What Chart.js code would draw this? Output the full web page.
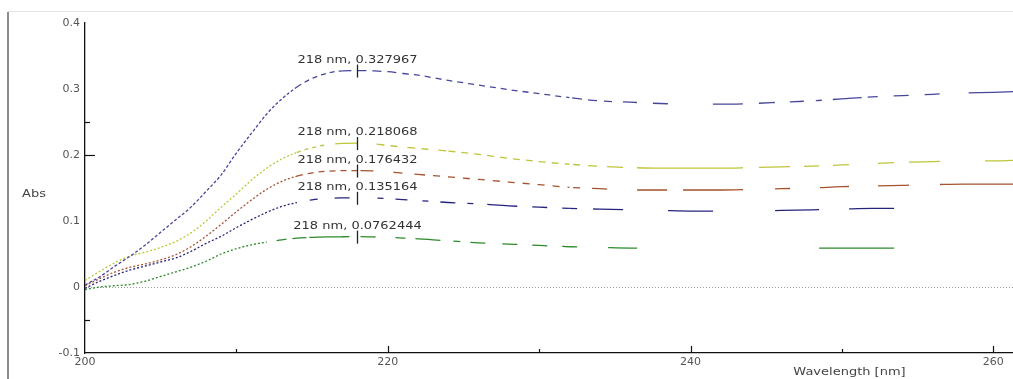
<!DOCTYPE html>
<html>
<head>
<meta charset="utf-8">
<script src="https://cdn.jsdelivr.net/npm/chart.js@4/dist/chart.umd.min.js"></script>
<style>
  html, body { margin: 0; padding: 0; background: #fff; }
  #wrap { width: 1013px; height: 379px; position: relative; }
</style>
</head>
<body>
<div id="wrap"><canvas id="c"></canvas></div>
<script>
// Wavelength grid (nm) shared by all spectra
const wavelengths = [200,201,202,203,204,205,206,207,208,209,210,211,212,213,214,215,216,217,218,219,220,221,222,223,224,
  226,228,230,232,234,236,238,240,242,244,246,248,250,252,254,256,258,260,261.3];

// Absorbance of the five samples
const absA = [0.003,0.016,0.032,0.047,0.064,0.083,0.102,0.121,0.145,0.170,0.203,0.233,0.262,0.285,0.303,0.316,0.324,0.3275,0.327967,0.3274,0.3262,0.3235,0.321,0.317,0.313,
  0.306,0.299,0.293,0.287,0.282,0.280,0.278,0.277,0.277,0.278,0.280,0.282,0.285,0.288,0.290,0.292,0.294,0.295,0.296];
const absB = [0.010,0.024,0.037,0.047,0.053,0.060,0.069,0.082,0.100,0.121,0.141,0.162,0.180,0.194,0.204,0.211,0.2155,0.2176,0.218068,0.2172,0.2145,0.2120,0.210,0.208,0.206,
  0.201,0.195,0.190,0.186,0.183,0.181,0.180,0.180,0.180,0.181,0.182,0.183,0.185,0.187,0.189,0.190,0.191,0.191,0.192];
const absC = [0.002,0.013,0.023,0.030,0.035,0.041,0.049,0.061,0.077,0.095,0.114,0.132,0.148,0.160,0.168,0.173,0.1755,0.1763,0.176432,0.1760,0.1745,0.1725,0.1705,0.1688,0.167,
  0.163,0.159,0.155,0.151,0.149,0.147,0.147,0.147,0.147,0.148,0.149,0.150,0.152,0.153,0.154,0.155,0.156,0.156,0.156];
const absD = [-0.002,0.009,0.018,0.026,0.032,0.038,0.044,0.054,0.066,0.077,0.090,0.102,0.113,0.122,0.128,0.132,0.1343,0.1350,0.135164,0.1349,0.1338,0.1325,0.131,0.1295,0.128,
  0.126,0.123,0.121,0.119,0.118,0.117,0.116,0.115,0.115,0.115,0.116,0.117,0.118,0.119,0.119];
const absE = [-0.004,0.000,0.002,0.004,0.009,0.016,0.023,0.030,0.039,0.050,0.058,0.064,0.068,0.0715,0.074,0.0752,0.0758,0.0761,0.0762444,0.0759,0.0752,0.0742,0.073,0.0715,0.070,
  0.067,0.065,0.063,0.061,0.060,0.059,0.059,0.059,0.059,0.059,0.059,0.059,0.059,0.059,0.059];

// Wavelength at which each spectrum is labelled
const markerNm = 218;

// Axis tick values
const yTickStep = 0.1;
const xTickStep = 10;
const xLabelEvery = 20;

// Pen styles: [start wavelength, dash pattern in px]
const penA = [[200,[3,2]],[214,[5,4]],[217,[9,6]],[221,[6,5]],
  [232,[0,2.7,10,6,9,7,8,11,14,16,15,45,30,16,16,15,14,12,6,11,29,6,10,16,15,16,15,29,60]]];
const penB = [[200,[2,2]],[214,[4,4]],[216,[0,8,22,10]],[218,[0,20]],[219,[0,4,8,6,7,6]],[224,[7,6]],
  [232,[0,3.7,7,8,9,10,16,14,106,16,31,14,15,14,16,29,16,15,31,45,40]]];
const penC = [[200,[2,2]],[214,[6,5]],[218,[0,3,13,20,9,12,8,12]],[222,[7,8]],
  [232,[0,3.7,7,12,15,30,30,16,60,32,15,30,29,29,31,31,80]]];
const penD = [[200,[2,2]],[214,[0,13,8,17,15,7]],[218,[0,20,6,12,12,15,6,12,15,12,6,14,30,15,15,15,8]],
  [232,[7.7,16,30,45,45,62,44,30,45,200]]];
const penE = [[200,[2,2]],[212,[0,10,10,6,14,3,40,20]],[218,[0,3,15,20,10,10,25,13,7,10,15,17,15,15,15,15,15,15]],
  [232,[7.7,31,29,182,75,100]]];

const series = [
  { values: absA, color: '#47479a', pen: penA },
  { values: absB, color: '#bfc53a', pen: penB },
  { values: absC, color: '#a5522f', pen: penC },
  { values: absD, color: '#24247c', pen: penD },
  { values: absE, color: '#2c8a2c', pen: penE }
];

function penAt(pen, x) {
  let d = pen[0][1];
  for (const [start, dash] of pen) if (x >= start - 1e-9) d = dash;
  return d;
}

const TEXT_FONT = '10px "DejaVu Sans"';
const STRETCH = 1.3;

function stretchedText(ctx, text, x, y, align) {
  ctx.save();
  ctx.translate(x, y);
  ctx.scale(STRETCH, 1);
  ctx.textAlign = align;
  ctx.textBaseline = 'alphabetic';
  ctx.fillText(text, 0, 0);
  ctx.restore();
}

const decor = {
  id: 'spectrumDecor',
  beforeDraw(chart) {
    const ctx = chart.ctx;
    ctx.save();
    ctx.fillStyle = '#fff';
    ctx.fillRect(0, 0, chart.width, chart.height);
    // window frame
    ctx.strokeStyle = '#e4e4e4';
    ctx.lineWidth = 1;
    ctx.beginPath(); ctx.moveTo(8, 11.5); ctx.lineTo(chart.width, 11.5); ctx.stroke();
    ctx.strokeStyle = '#8c8c8c';
    ctx.lineWidth = 2;
    ctx.beginPath(); ctx.moveTo(8, 12); ctx.lineTo(8, chart.height); ctx.stroke();
    ctx.restore();
  },
  beforeDatasetsDraw(chart) {
    const ctx = chart.ctx, xs = chart.scales.x, ys = chart.scales.y, a = chart.chartArea;
    ctx.save();
    // baseline at zero absorbance
    const y0 = Math.round(ys.getPixelForValue(0)) + 0.5;
    ctx.strokeStyle = '#9a9a9a';
    ctx.lineWidth = 1;
    ctx.setLineDash([1, 2]);
    ctx.beginPath(); ctx.moveTo(a.left, y0); ctx.lineTo(a.right, y0); ctx.stroke();
    ctx.setLineDash([]);
    // inward tick marks
    ctx.strokeStyle = '#111';
    ctx.lineWidth = 1.2;
    [[0.25, 5], [0.2, 10], [-0.05, 5]].forEach(([v, len]) => {
      const y = Math.round(ys.getPixelForValue(v)) + 0.5;
      ctx.beginPath(); ctx.moveTo(a.left, y); ctx.lineTo(a.left + len, y); ctx.stroke();
    });
    for (let v = 210; v <= 260; v += xTickStep) {
      const x = Math.round(xs.getPixelForValue(v)) + 0.5;
      const len = v % xLabelEvery === 0 ? 7 : 4;
      ctx.beginPath(); ctx.moveTo(x, a.bottom); ctx.lineTo(x, a.bottom - len); ctx.stroke();
    }
    ctx.restore();
  },
  afterDatasetsDraw(chart) {
    const ctx = chart.ctx, xs = chart.scales.x, ys = chart.scales.y, a = chart.chartArea;
    const idx = wavelengths.indexOf(markerNm);
    ctx.save();
    ctx.font = TEXT_FONT;
    series.forEach(s => {
      const v = s.values[idx];
      const px = Math.round(xs.getPixelForValue(markerNm)) + 0.5;
      const py = ys.getPixelForValue(v);
      ctx.strokeStyle = '#222';
      ctx.lineWidth = 1.3;
      ctx.beginPath(); ctx.moveTo(px, py - 6); ctx.lineTo(px, py + 7); ctx.stroke();
      ctx.fillStyle = '#333';
      stretchedText(ctx, markerNm + ' nm, ' + v, px, py - 8, 'center');
    });
    ctx.fillStyle = '#444';
    stretchedText(ctx, 'Abs', 22, 197, 'left');
    stretchedText(ctx, 'Wavelength [nm]', xs.getPixelForValue(250.5), 375, 'center');
    ctx.restore();
  }
};

new Chart(document.getElementById('c'), {
  type: 'line',
  data: {
    datasets: series.map(s => ({
      data: s.values.map((y, i) => ({ x: wavelengths[i], y })),
      borderColor: s.color,
      borderWidth: 1.3,
      pointRadius: 0,
      cubicInterpolationMode: 'monotone',
      fill: false,
      segment: { borderDash: ctx => penAt(s.pen, ctx.p0.parsed.x) }
    }))
  },
  options: {
    responsive: true,
    maintainAspectRatio: false,
    animation: false,
    events: [],
    layout: { padding: { left: 0, right: 0, top: 23, bottom: 0 } },
    plugins: { legend: { display: false }, tooltip: { enabled: false } },
    scales: {
      x: {
        type: 'linear',
        min: 200,
        max: 261.3,
        grid: { display: false, drawTicks: false },
        border: { display: true, color: '#111', width: 1.3 },
        ticks: {
          stepSize: xTickStep,
          includeBounds: false,
          autoSkip: false,
          maxRotation: 0,
          padding: 3,
          color: '#555',
          font: { family: 'DejaVu Sans', size: 11 },
          callback: v => (v % xLabelEvery === 0 ? String(v) : '')
        },
        afterFit: s => { s.height = 26; }
      },
      y: {
        min: -0.1,
        max: 0.4,
        grid: { display: false, drawTicks: false },
        border: { display: true, color: '#111', width: 1.3 },
        ticks: {
          stepSize: yTickStep,
          padding: 5,
          color: '#555',
          font: { family: 'DejaVu Sans', size: 11 },
          callback: v => (Math.abs(v) < 1e-9 ? '0' : v.toFixed(1))
        },
        afterFit: s => { s.width = 85; }
      }
    }
  },
  plugins: [decor]
});
</script>
</body>
</html>
